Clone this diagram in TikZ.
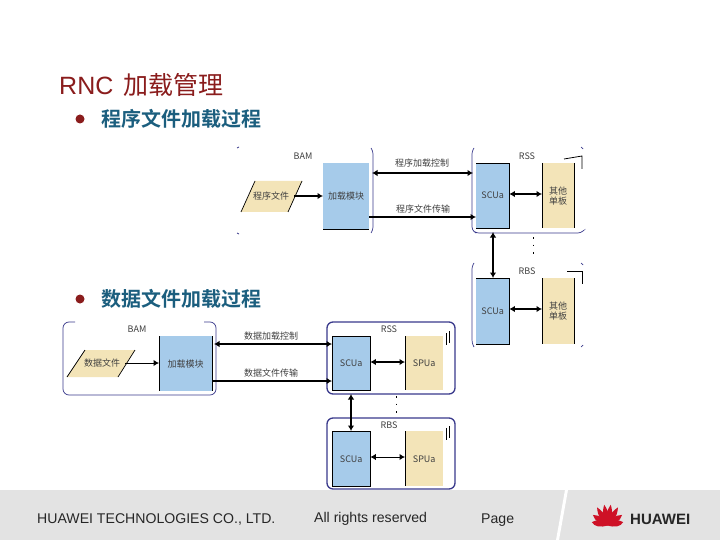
\documentclass[tikz,border=0pt]{standalone}
\usepackage{fontspec}
\setmainfont{Liberation Sans}
\newfontfamily\cjk{Noto Sans CJK SC}
\newfontfamily\cjkb{Noto Sans CJK SC Bold}
\usetikzlibrary{arrows.meta}
\definecolor{titlered}{HTML}{8A1C1C}
\definecolor{headblue}{HTML}{1B5E7E}
\definecolor{boxblue}{HTML}{A6CBEA}
\definecolor{boxtan}{HTML}{F3E4B8}
\definecolor{framenavy}{HTML}{3A3A8C}
\definecolor{bandgray}{HTML}{E3E3E3}
\definecolor{hwred}{HTML}{CE1126}
\tikzset{
  x=1pt,y=-1pt,
  lbl/.style={inner sep=0pt,font=\fontsize{9}{10}\selectfont\cjk,text=black!75},
  bluebox/.style={fill=boxblue,inner sep=0pt,font=\fontsize{9}{10}\selectfont\cjk,text=black!75,anchor=north west},
  tanbox/.style={fill=boxtan,inner sep=0pt,font=\fontsize{9}{10}\selectfont\cjk,text=black!75,anchor=north west,align=center},
  edgeblack/.style={draw=black,line width=0.8pt},
  thinframe/.style={draw=framenavy,line width=0.7pt,rounded corners=3pt},
  boldframe/.style={draw=framenavy,line width=1.3pt,rounded corners=6pt},
  link/.style={draw=black,line width=1.9pt,-{Latex[length=5.5pt,width=6.5pt]}},
  dbl/.style={draw=black,line width=1.9pt,{Latex[length=5.5pt,width=6.5pt]}-{Latex[length=5.5pt,width=6.5pt]}},
  heading/.style={anchor=west,inner sep=0pt,font=\fontsize{20}{22}\selectfont\cjkb,text=headblue},
  footer/.style={anchor=west,inner sep=0pt,font=\fontsize{14.1}{16}\selectfont,text=black!85},
  dots/.style={draw=black,line width=0.8pt,dash pattern=on 1.5pt off 6pt},
  petal/.style={fill=hwred},
}
\begin{document}
\begin{tikzpicture}
\useasboundingbox (0,0) rectangle (720,540);
\fill[white] (0,0) rectangle (720,540);
% footer band
\fill[bandgray] (0,490) rectangle (720,540);
\fill[white] (565,490) -- (568,490) -- (559,540) -- (556,540) -- cycle;
\node[footer] (f1) at (37,519) {HUAWEI TECHNOLOGIES CO., LTD.};
\node[footer] (f2) at (314,519) {All rights reserved};
\node[footer] (f3) at (481,520) {Page};
% logo
\foreach \a/\l in {-78/16,-54/18,-30/21,-9/21,9/21,30/21,54/18,78/16}{
  \fill[petal,rotate around={\a:(607.5,525.5)}] (607.5,525.5) .. controls (604,519) and (603.5,513) .. (607.5,525.5-\l) .. controls (611.5,513) and (611,519) .. (607.5,525.5) -- cycle;
}
\node[anchor=west,inner sep=0pt,font=\fontsize{15}{16}\selectfont\bfseries,text=black!85] (logo) at (630,519) {HUAWEI};
% titles
\node[anchor=west,inner sep=0pt,font=\fontsize{25}{28}\selectfont,text=titlered] (title) at (59,85) {RNC\hspace{0.42em}{\cjk 加载管理}};
\fill[titlered] (80,119) circle (4.5);
\node[heading] (h1) at (101,119) {程序文件加载过程};
\fill[titlered] (80,299) circle (4.5);
\node[heading] (h2) at (101,299) {数据文件加载过程};

%% ---------- upper diagram ----------
\draw[thinframe] (371,148) -- (373,151) -- (373,230) -- (371,233);
\draw[thinframe] (237,148) -- (239,147);
\draw[thinframe] (237,233) -- (239,234);
\draw[thinframe] (474,148) -- (472,151) -- (472,230) -- (476,233) -- (581,233) -- (583,231);
\draw[thinframe] (581,147) -- (583,149);
\draw[thinframe] (474,263) -- (472,266) -- (472,343) -- (474,347);
\draw[thinframe] (581,263) -- (583,265);
\draw[thinframe] (581,347) -- (583,345);
\draw[line width=0.8pt] (564,159) -- (582,156) -- (582,169);
\draw[line width=0.8pt] (567,271) -- (582,271) -- (582,284);

\path[fill=boxtan] (255,181) coordinate (pa) -- (302,181) -- (288,212) -- (241,212) -- cycle;
\draw[black,line width=0.7pt] (255,181) -- (241,212);
\draw[black,line width=0.7pt] (302,181) -- (288,212);
\node[lbl] (p1) at (271,196) {程序文件};
\coordinate (p1e) at (294,196);

\node[bluebox,minimum width=46pt,minimum height=66pt] (m1) at (323,163) {加载模块};
\draw[edgeblack] (m1.south west) -- (m1.south east);
\node[bluebox,minimum width=33pt,minimum height=65pt] (s1) at (476,163) {SCUa};
\draw[edgeblack] (s1.north west) -- (s1.north east) -- (s1.south east) -- (s1.south west);
\node[tanbox,minimum width=32pt,minimum height=65pt] (o1) at (542,163) {其他\\单板};
\draw[edgeblack] (o1.north west) -- (o1.south west);
\draw[edgeblack] (o1.north east) -- (o1.south east);
\node[bluebox,minimum width=33pt,minimum height=66pt] (s2) at (476,278) {SCUa};
\draw[edgeblack] (s2.north west) -- (s2.north east) -- (s2.south east) -- (s2.south west);
\node[tanbox,minimum width=32pt,minimum height=66pt] (o2) at (542,278) {其他\\单板};
\draw[edgeblack] (o2.north west) -- (o2.south west);
\draw[edgeblack] (o2.north east) -- (o2.south east);

\node[lbl] (bam1) at (303,156) {BAM};
\node[lbl] (rss1) at (527,156) {RSS};
\node[lbl] (rbs1) at (527,271) {RBS};
\node[lbl] (c1) at (422,163) {程序加载控制};
\node[lbl] (t1) at (423,209) {程序文件传输};

\draw[link] (p1e) -- (m1.west |- p1e);
\draw[dbl] (372,173) -- (473,173);
\draw[link] (m1.east |- 0,217) -- (s1.west |- 0,217);
\draw[dbl] (s1.east |- 0,194) -- (o1.west |- 0,194);
\draw[dbl] (s2.east |- 0,309) -- (o2.west |- 0,309);
\draw[dbl] (493,232) -- (s2.north -| 493,0);
\draw[dots] (533,237) -- (533,259);

%% ---------- lower diagram ----------
\draw[thinframe,rounded corners=6pt] (75,322) -- (63,322) -- (63,395) -- (216,395) -- (216,322) -- (204,322);
\draw[boldframe] (327,322) rectangle (455,394);
\draw[boldframe] (327,418) rectangle (455,489);

\fill[boxtan] (85,350) -- (135,350) -- (118,377) -- (67,377) -- cycle;
\draw[black,line width=0.7pt] (85,350) -- (67,377);
\draw[black,line width=0.7pt] (135,350) -- (118,377);
\node[lbl] (p2) at (102,363) {数据文件};
\coordinate (p2e) at (125,363);

\node[bluebox,minimum width=53pt,minimum height=55pt] (m2) at (159,336) {加载模块};
\draw[edgeblack] (m2.north west) -- (m2.south west);
\draw[edgeblack] (m2.north east) -- (m2.south east);
\node[bluebox,minimum width=38pt,minimum height=54pt] (s3) at (332,336) {SCUa};
\draw[edgeblack] (s3.north west) -- (s3.north east) -- (s3.south east) -- (s3.south west) -- cycle;
\node[tanbox,minimum width=38pt,minimum height=54pt] (o3) at (405,336) {SPUa};
\draw[edgeblack] (o3.north west) -- (o3.south west);
\node[bluebox,minimum width=38pt,minimum height=55pt] (s4) at (332,431) {SCUa};
\draw[edgeblack] (s4.north west) -- (s4.north east) -- (s4.south east) -- (s4.south west) -- cycle;
\node[tanbox,minimum width=38pt,minimum height=55pt] (o4) at (405,431) {SPUa};
\draw[edgeblack] (o4.north west) -- (o4.south west);

\draw[line width=0.8pt] (446,333) -- (446,345) (449,331) -- (449,343);
\draw[line width=0.8pt] (446,428) -- (446,440) (449,426) -- (449,438);

\node[lbl] (bam2) at (137,329) {BAM};
\node[lbl] (rss2) at (389,329) {RSS};
\node[lbl] (rbs2) at (389,425) {RBS};
\node[lbl] (c2) at (271,336) {数据加载控制};
\node[lbl] (t2) at (271,373) {数据文件传输};

\draw[link,line width=1pt] (p2e) -- (m2.west |- p2e);
\draw[dbl] (214,344) -- (s3.west |- 0,344);
\draw[link] (m2.east |- 0,381) -- (s3.west |- 0,381);
\draw[dbl] (s3.east |- 0,362) -- (o3.west |- 0,362);
\draw[dbl,line width=1pt] (s4.east |- 0,457) -- (o4.west |- 0,457);
\draw[dbl] (351,394) -- (s4.north -| 351,0);
\draw[dots] (396,396) -- (396,417);
\end{tikzpicture}
\end{document}
